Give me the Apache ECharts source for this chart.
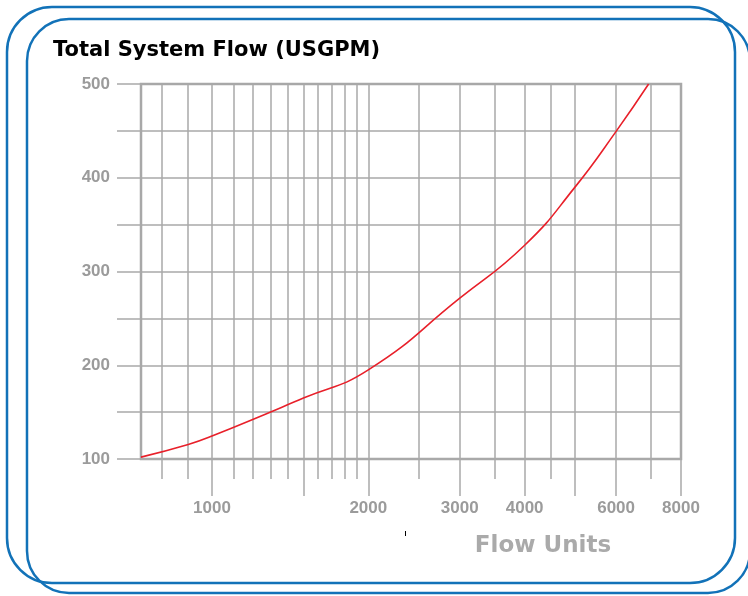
<!DOCTYPE html>
<html>
<head>
<meta charset="utf-8">
<script src="https://cdn.jsdelivr.net/npm/echarts@6/dist/echarts.min.js"></script>
<style>
  html, body { margin: 0; padding: 0; background: #fff; }
  #main { width: 748px; height: 596px; }
</style>
</head>
<body>
<div id="main"></div>
<script>
// x: flow units, y: total system flow (USGPM)
var flowUnits = [730, 900, 1000, 1500, 2000, 3000, 4000, 5000, 6000, 6930];
var usgpm = [102, 115.5, 124.5, 165, 195, 271.5, 328, 390, 449.5, 500];

// grid lines / ticks on the flow axis
var minorTicks = [800, 900, 1100, 1200, 1300, 1400, 1600, 1700, 1800, 1900, 2500, 3500, 4500, 7000];
var majorTicks = [1000, 1500, 2000, 3000, 4000, 5000, 6000, 8000];
var xLabels = [1000, 2000, 3000, 4000, 6000, 8000];
var yLabels = [100, 200, 300, 400, 500];

var gridGray = '#a9a9a9';
var labelGray = '#9b9b9b';
var blue = '#1272b8';

var chart = echarts.init(document.getElementById('main'));

var option = {
    backgroundColor: '#fff',
    animation: false,
    title: {
        text: 'Total System Flow (USGPM)',
        left: 48,
        top: 35,
        textStyle: {
            color: '#000',
            fontFamily: 'DejaVu Sans',
            fontWeight: 'bold',
            fontSize: 21
        }
    },
    grid: {
        left: 141,
        right: 67,
        top: 84,
        bottom: 137,
        show: true,
        borderColor: gridGray,
        borderWidth: 2.5
    },
    xAxis: [{
        type: 'log',
        logBase: 10,
        min: 730,
        max: 8000,
        position: 'bottom',
        axisLine: { show: true, lineStyle: { color: gridGray, width: 1.5 } },
        axisTick: { show: true, customValues: minorTicks, length: 20, lineStyle: { color: gridGray, width: 1.5 } },
        axisLabel: { show: false },
        splitLine: { show: true, lineStyle: { color: gridGray, width: 1.5 } }
    }, {
        type: 'log',
        logBase: 10,
        min: 730,
        max: 8000,
        position: 'bottom',
        axisLine: { show: false },
        axisTick: { show: true, customValues: majorTicks, length: 37, lineStyle: { color: gridGray, width: 1.5 } },
        axisLabel: {
            show: true,
            customValues: xLabels,
            margin: 41,
            color: labelGray,
            fontFamily: 'Liberation Sans',
            fontWeight: 'bold',
            fontSize: 17,
            formatter: function (v) { return String(Math.round(v)); }
        },
        splitLine: { show: true, lineStyle: { color: gridGray, width: 1.5 } }
    }],
    yAxis: {
        type: 'value',
        min: 100,
        max: 500,
        interval: 50,
        axisLine: { show: true, lineStyle: { color: gridGray, width: 1.5 } },
        axisTick: { show: true, length: 24, lineStyle: { color: gridGray, width: 1.5 } },
        axisLabel: {
            margin: 31,
            color: labelGray,
            fontFamily: 'Liberation Sans',
            fontWeight: 'bold',
            fontSize: 17,
            formatter: function (v) {
                return yLabels.indexOf(v) >= 0 ? String(v) : '';
            }
        },
        splitLine: { show: true, lineStyle: { color: gridGray, width: 1.5 } }
    },
    series: [{
        type: 'line',
        xAxisIndex: 0,
        data: flowUnits.map(function (f, i) { return [f, usgpm[i]]; }),
        smooth: 0.5,
        showSymbol: false,
        lineStyle: { color: '#e8202a', width: 1.6 }
    }],
    graphic: [
        {
            type: 'rect',
            shape: { x: 7, y: 7, width: 728, height: 576, r: 45 },
            style: { fill: null, stroke: blue, lineWidth: 2.5 },
            silent: true
        },
        {
            type: 'rect',
            shape: { x: 27, y: 19, width: 723, height: 574, r: 42 },
            style: { fill: null, stroke: blue, lineWidth: 2.5 },
            silent: true
        },
        {
            type: 'text',
            x: 543,
            y: 546,
            style: {
                text: 'Flow Units',
                fill: '#aaaaaa',
                font: 'bold 23px "DejaVu Sans"',
                align: 'center',
                verticalAlign: 'middle'
            }
        },
        {
            type: 'line',
            shape: { x1: 405.5, y1: 531, x2: 405.5, y2: 536 },
            style: { stroke: '#000', lineWidth: 1 },
            silent: true
        }
    ]
};

chart.setOption(option);
</script>
</body>
</html>
